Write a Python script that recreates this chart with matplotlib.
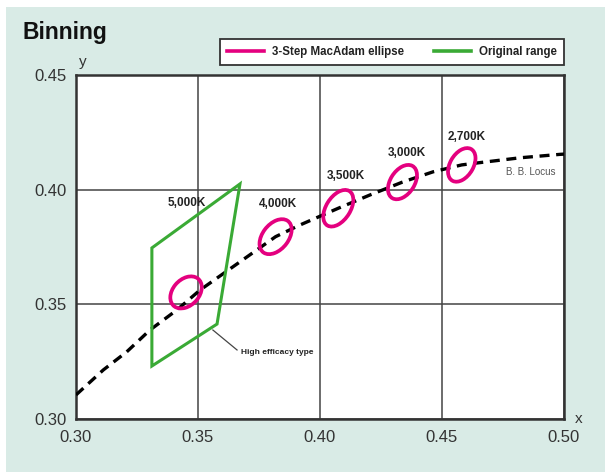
import matplotlib
matplotlib.use("Agg")
import matplotlib.pyplot as plt
from matplotlib.patches import Ellipse, Rectangle, Polygon
from matplotlib.lines import Line2D

plt.rcParams['font.family'] = ['Liberation Sans', 'DejaVu Sans']

# black body locus
locus_x = [0.300, 0.3112, 0.3208, 0.3303, 0.3413, 0.3508, 0.3818, 0.3918,
           0.4075, 0.4205, 0.4338, 0.4464, 0.4581, 0.4656, 0.4820, 0.4984, 0.500]
locus_y = [0.3105, 0.3214, 0.3293, 0.3388, 0.3475, 0.3562, 0.3795, 0.3846,
           0.3919, 0.3977, 0.4033, 0.4078, 0.4108, 0.4118, 0.4139, 0.4154, 0.4155]

# MacAdam ellipses
cct_labels = ["5,000K", "4,000K", "3,500K", "3,000K", "2,700K"]
ell_x = [0.3451, 0.3818, 0.4075, 0.4338, 0.4581]
ell_y = [0.3552, 0.3795, 0.3919, 0.4033, 0.4108]
ell_w = [0.0155, 0.0170, 0.0175, 0.0163, 0.0158]
ell_h = [0.0110, 0.0108, 0.0100, 0.0100, 0.0096]
ell_ang = [52, 55, 60, 60, 62]
label_x = [0.3455, 0.3828, 0.4107, 0.4357, 0.4602]
label_y = [0.3942, 0.3938, 0.4060, 0.4160, 0.4230]

# original range (green quadrilateral)
range_x = [0.3311, 0.3672, 0.3578, 0.3311]
range_y = [0.3746, 0.4025, 0.3414, 0.3231]

xticks = [0.30, 0.35, 0.40, 0.45, 0.50]
yticks = [0.30, 0.35, 0.40, 0.45]

MAGENTA = '#e4007f'
GREEN = '#3aaa35'

fig = plt.figure(figsize=(6.05, 4.72), dpi=100)
fig.patch.set_facecolor('white')
fig.patches.append(Rectangle((6 / 605, 0), 1, 1 - 7 / 472, transform=fig.transFigure,
                             facecolor='#d9ebe6', edgecolor='none', zorder=-10))

ax = fig.add_axes([76 / 605, 1 - 419 / 472, 488 / 605, 344 / 472])
ax.set_facecolor('white')
ax.set_xlim(0.30, 0.50)
ax.set_ylim(0.30, 0.45)
ax.set_xticks(xticks)
ax.set_yticks(yticks)
ax.set_xticklabels(["%.2f" % v for v in xticks])
ax.set_yticklabels(["%.2f" % v for v in yticks])
ax.tick_params(length=0, labelsize=12, labelcolor='#333333')
ax.tick_params(axis='y', pad=7)
ax.tick_params(axis='x', pad=8)
ax.grid(True, color='#444444', lw=1.1)
ax.set_axisbelow(True)
for s in ax.spines.values():
    s.set_linewidth(1.8)
    s.set_color('#333333')

ax.plot(locus_x, locus_y, color='black', lw=2.4, dashes=(3.0, 2.0), zorder=3)

ax.add_patch(Polygon(list(zip(range_x, range_y)), closed=True, fill=False,
                     edgecolor=GREEN, lw=2.2, zorder=4))

for i in range(len(ell_x)):
    ax.add_patch(Ellipse((ell_x[i], ell_y[i]), ell_w[i], ell_h[i], angle=ell_ang[i],
                         fill=False, edgecolor=MAGENTA, lw=2.7, zorder=5))
    ax.text(label_x[i], label_y[i], cct_labels[i], ha='center', va='center',
            fontsize=8.5, fontweight='bold', color='#222222')

ax.text(0.4865, 0.4078, "B. B. Locus", ha='center', va='center', fontsize=7,
        color='#555555')

ax.plot([0.3561, 0.3660], [0.3388, 0.3301], color='#444444', lw=0.9, zorder=3)
ax.text(0.3676, 0.3292, "High efficacy type", ha='left', va='center', fontsize=6,
        fontweight='bold', color='#222222')

ax.text(0.3029, 0.4556, "y", ha='center', va='center', fontsize=11, color='#333333',
        clip_on=False)
ax.text(0.5061, 0.3002, "x", ha='center', va='center', fontsize=11, color='#333333',
        clip_on=False)

fig.text(22 / 605, 1 - 39 / 472, "Binning", fontsize=16.5, fontweight='bold',
         family=['Liberation Sans Narrow', 'Liberation Sans'], color='#111111',
         va='baseline', ha='left')

handles = [Line2D([], [], color=MAGENTA, lw=2.6),
           Line2D([], [], color=GREEN, lw=2.6)]
leg = ax.legend(handles, ["3-Step MacAdam ellipse", "Original range"], ncol=2,
                loc='lower right', bbox_to_anchor=(1.0, 1.0 + 10 / 344),
                borderaxespad=0, fancybox=False, framealpha=1, edgecolor='#333333',
                prop={'size': 8.3, 'weight': 'bold'}, handlelength=3.2,
                columnspacing=2.6, handletextpad=0.7, borderpad=0.6)
leg.get_frame().set_linewidth(1.3)
for t in leg.get_texts():
    t.set_color('#222222')

fig.savefig("out.png", dpi=100)
